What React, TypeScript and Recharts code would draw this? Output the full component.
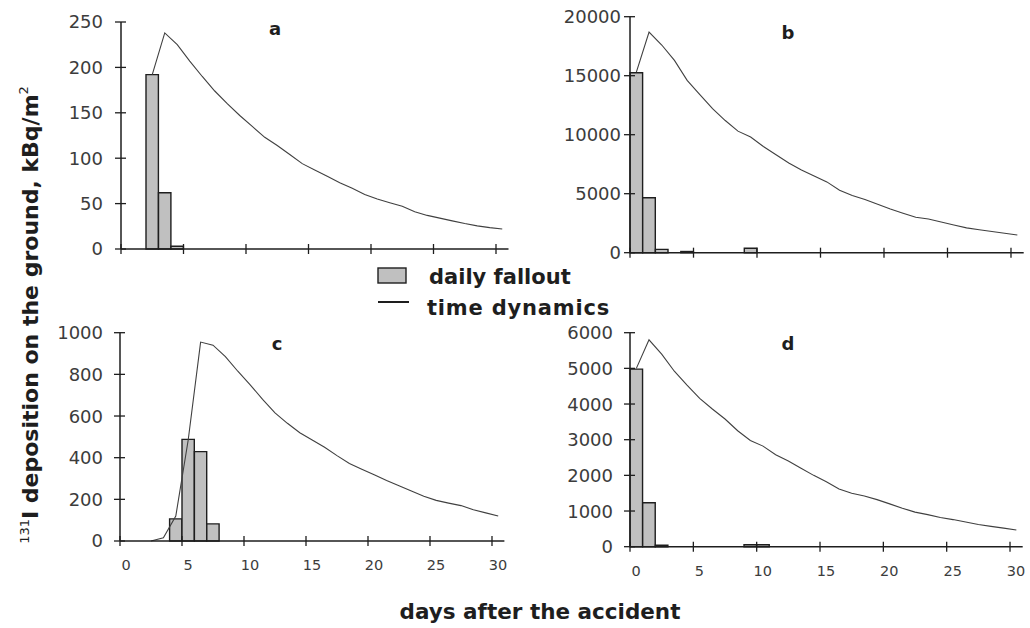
import { ComposedChart, Bar, Line, XAxis, YAxis } from "recharts";

const INK = "#1e1e1e";
const TICK_INK = "#3c3c3c";
const FONT = "DejaVu Sans";

const DAY_TICKS = [0, 5, 10, 15, 20, 25, 30];

// a
const A_Y_TICKS = [0, 50, 100, 150, 200, 250];
const A_FALL = [null, null, 192, 62, 3];
const A_DEP_START = 2;
const A_DEP = [192, 238, 225, 207, 190, 174, 160, 147, 135, 123, 114, 104, 94, 87, 80, 73, 67, 60, 55, 51, 47, 41, 37, 34, 31, 28, 25.5, 23.5, 22];

// b
const B_Y_TICKS = [0, 5000, 10000, 15000, 20000];
const B_FALL = [15250, 4660, 280, null, 100, null, null, null, null, 370];
const B_DEP_START = 0;
const B_DEP = [15300, 18700, 17600, 16300, 14600, 13400, 12200, 11200, 10300, 9800, 9000, 8300, 7600, 7000, 6500, 6000, 5300, 4850, 4500, 4100, 3700, 3350, 3000, 2850, 2600, 2350, 2100, 1950, 1800, 1650, 1500];

// c
const C_Y_TICKS = [0, 200, 400, 600, 800, 1000];
const C_FALL = [null, null, null, null, 106, 488, 429, 82];
const C_DEP_START = 2;
const C_DEP = [0, 15, 120, 485, 955, 940, 885, 815, 750, 680, 615, 565, 520, 485, 450, 410, 372, 345, 318, 290, 265, 240, 215, 195, 182, 170, 150, 135, 120];

// d
const D_Y_TICKS = [0, 1000, 2000, 3000, 4000, 5000, 6000];
const D_FALL = [4980, 1230, 40, null, null, null, null, null, null, 55, 55];
const D_DEP_START = 0;
const D_DEP = [5000, 5800, 5400, 4920, 4530, 4160, 3860, 3580, 3250, 2980, 2820, 2580, 2400, 2200, 2000, 1820, 1620, 1500, 1420, 1320, 1200, 1080, 970, 900, 820, 760, 690, 620, 570, 520, 470];

// one row per day, plotted at the middle of the day
function buildRows(fall: (number | null)[], depStart: number, dep: number[]) {
  const rows = [];
  for (let d = 0; d <= 30; d++) {
    rows.push({
      day: d + 0.5,
      fall: fall[d] ?? null,
      dep: d >= depStart ? dep[d - depStart] : null,
    });
  }
  return rows;
}

const yTick = (gap: number) => (p: any) => {
  const ax = p.x + 6 + gap;
  return (
    <g>
      <line x1={ax - 6} x2={ax + 5} y1={p.y} y2={p.y} stroke={INK} strokeWidth={1.3} />
      <text x={p.x} y={p.y} dy="0.36em" textAnchor="end" fontFamily={FONT} fontSize={18} fill={TICK_INK}>
        {p.payload.value}
      </text>
    </g>
  );
};

const xTick = (withLabel: boolean) => (p: any) => {
  const ay = p.y - 5;
  return (
    <g>
      <line x1={p.x} x2={p.x} y1={ay - 5} y2={ay + 5} stroke={INK} strokeWidth={1.3} />
      {withLabel && (
        <text x={p.x + 6} y={ay + 29} textAnchor="middle" fontFamily={FONT} fontSize={14.5} fill={TICK_INK}>
          {p.payload.value}
        </text>
      )}
    </g>
  );
};

type Box = { left: number; top: number; width: number; height: number; mt: number; mr: number; yw: number; xh: number; bar: number };

function Panel({ rows, yMax, yTicks, box, withLabel, yGap }: { rows: any[]; yMax: number; yTicks: number[]; box: Box; withLabel: boolean; yGap: number }) {
  return (
    <div style={{ position: "absolute", left: box.left, top: box.top }}>
      <ComposedChart width={box.width} height={box.height} data={rows} margin={{ top: box.mt, right: box.mr, bottom: 0, left: 0 }}>
        <XAxis
          dataKey="day"
          type="number"
          domain={[0, 31]}
          ticks={DAY_TICKS}
          interval={0}
          height={box.xh}
          axisLine={{ stroke: INK, strokeWidth: 1.5 }}
          tickLine={false}
          tickSize={5}
          tickMargin={0}
          tick={xTick(withLabel)}
        />
        <YAxis
          type="number"
          domain={[0, yMax]}
          ticks={yTicks}
          interval={0}
          width={box.yw}
          axisLine={{ stroke: INK, strokeWidth: 1.5 }}
          tickLine={false}
          tickSize={6}
          tickMargin={yGap}
          tick={yTick(yGap)}
        />
        <Bar dataKey="fall" barSize={box.bar} fill="#c0c0c0" stroke={INK} strokeWidth={1.4} isAnimationActive={false} />
        <Line dataKey="dep" type="linear" stroke="#404040" strokeWidth={1.1} dot={false} isAnimationActive={false} />
      </ComposedChart>
    </div>
  );
}

export default function App() {
  const rowsA = buildRows(A_FALL, A_DEP_START, A_DEP);
  const rowsB = buildRows(B_FALL, B_DEP_START, B_DEP);
  const rowsC = buildRows(C_FALL, C_DEP_START, C_DEP);
  const rowsD = buildRows(D_FALL, D_DEP_START, D_DEP);

  const title = { fontFamily: FONT, fontSize: 18, fontWeight: 700, fill: INK } as const;
  const label = { fontFamily: FONT, fontWeight: 700, fill: INK } as const;

  return (
    <div style={{ position: "absolute", left: 0, top: 0, width: 1030, height: 628, background: "#fff", overflow: "hidden" }}>
      <Panel rows={rowsA} yMax={250} yTicks={A_Y_TICKS} withLabel={false} yGap={12}
        box={{ left: 0, top: 0, width: 520, height: 279, mt: 22, mr: 11.5, yw: 121, xh: 30, bar: 12.4 }} />
      <Panel rows={rowsB} yMax={20000} yTicks={B_Y_TICKS} withLabel={false} yGap={3}
        box={{ left: 510, top: 0, width: 520, height: 282.7, mt: 16.7, mr: 6.3, yw: 120, xh: 30, bar: 12.6 }} />
      <Panel rows={rowsC} yMax={1000} yTicks={C_Y_TICKS} withLabel={true} yGap={11}
        box={{ left: 0, top: 300, width: 520, height: 281, mt: 32.7, mr: 15.6, yw: 120, xh: 40, bar: 12.3 }} />
      <Panel rows={rowsD} yMax={6000} yTicks={D_Y_TICKS} withLabel={true} yGap={11}
        box={{ left: 510, top: 300, width: 520, height: 286.7, mt: 32.7, mr: 7.3, yw: 120, xh: 40, bar: 12.55 }} />

      <svg width={1030} height={628} style={{ position: "absolute", left: 0, top: 0, pointerEvents: "none" }}>
        <text x={275} y={35} textAnchor="middle" {...title}>a</text>
        <text x={788} y={39} textAnchor="middle" {...title}>b</text>
        <text x={277} y={350} textAnchor="middle" {...title}>c</text>
        <text x={788} y={350} textAnchor="middle" {...title}>d</text>

        <rect x={378} y={268} width={28} height={15} fill="#c0c0c0" stroke={INK} strokeWidth={1.4} />
        <text x={429} y={284} fontSize={21} {...label}>daily fallout</text>
        <line x1={378} x2={409} y1={302} y2={302} stroke={INK} strokeWidth={2} />
        <text x={427} y={315} fontSize={21} letterSpacing={0.8} {...label}>time dynamics</text>

        <text x={540} y={619} textAnchor="middle" fontSize={21.5} {...label}>days after the accident</text>

        <text transform="rotate(-90)" x={-315} y={38} textAnchor="middle" fontSize={22} {...label}>
          <tspan fontSize={13} fontWeight={400} dy={-9}>131</tspan>
          <tspan dy={9}>I deposition on the ground, kBq/m</tspan>
          <tspan fontSize={13} fontWeight={400} dy={-10}>2</tspan>
        </text>
      </svg>
    </div>
  );
}
